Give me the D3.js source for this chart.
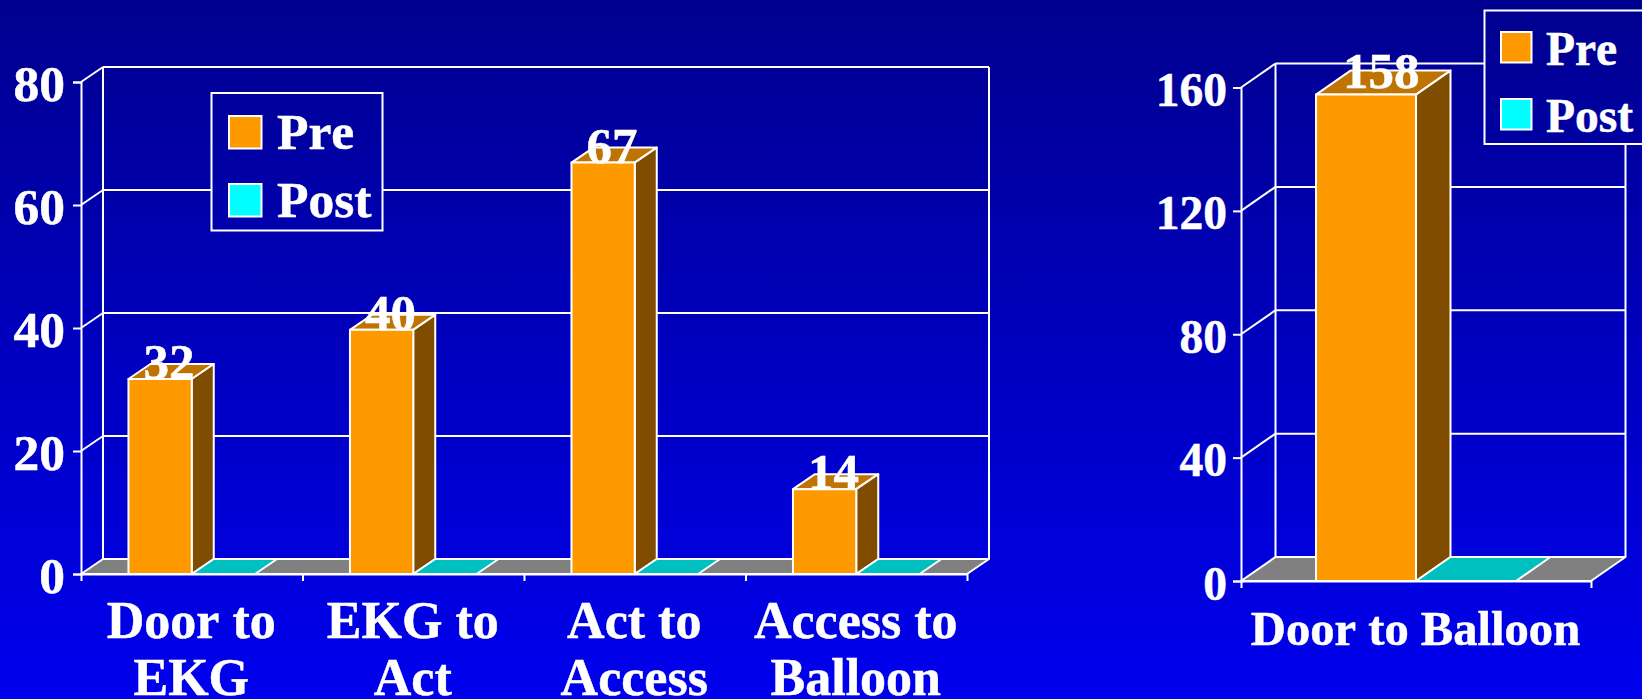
<!DOCTYPE html>
<html>
<head>
<meta charset="utf-8">
<script src="https://cdn.jsdelivr.net/npm/d3@7/dist/d3.min.js"></script>
<style>
html,body{margin:0;padding:0;background:#0000e8;overflow:hidden}
svg{display:block}
text{font-family:"Liberation Serif",serif;font-weight:700;fill:#fff;stroke:#fff;stroke-width:0.5px;font-kerning:none}
</style>
</head>
<body>
<svg id="chart" width="1642" height="699"></svg>
<script>
// ---- data ----
const seriesNames = ["Pre", "Post"];
const seriesColors = ["#ff9900", "#00ffff"];
const topColors = ["#bf7300", "#00bfbf"];
const sideColors = ["#7f4c00", "#007f7f"];

const leftCategories = [["Door to", "EKG"], ["EKG to", "Act"], ["Act to", "Access"], ["Access to", "Balloon"]];
const leftPre = [31.7, 39.7, 66.9, 13.8];
const leftPost = [0, 0, 0, 0];
const leftTicks = [0, 20, 40, 60, 80];

const rightCategories = [["Door to Balloon"]];
const rightPre = [157.7];
const rightPost = [0];
const rightTicks = [0, 40, 80, 120, 160];

const svg = d3.select("#chart");
const defs = svg.append("defs");
const bg = defs.append("linearGradient").attr("id", "bg")
  .attr("gradientUnits", "userSpaceOnUse")
  .attr("x1", 0).attr("y1", 0).attr("x2", 0).attr("y2", 699);
bg.append("stop").attr("offset", 0).attr("stop-color", "#00008e");
bg.append("stop").attr("offset", 1).attr("stop-color", "#0000ee");
svg.append("rect").attr("width", 1642).attr("height", 699).attr("fill", "url(#bg)");

const WHITE = "#fff", SW = 2;

function panel(o) {
  const g = svg.append("g");
  const y = d3.scaleLinear().domain([0, o.yMax]).range([o.y0, o.yTop]);
  const x = d3.scaleBand().domain(d3.range(o.categories.length)).range([o.x0, o.x1]);
  const xEdges = d3.scaleLinear().domain([0, o.categories.length]).range([o.x0, o.x1]);
  const inner = d3.scaleBand().domain(seriesNames).range([0, x.bandwidth()]).paddingOuter(0.75);
  const dx = o.dx, dy = o.dy;
  const line = (x1, y1, x2, y2) => g.append("line")
    .attr("x1", x1).attr("y1", y1).attr("x2", x2).attr("y2", y2)
    .attr("stroke", WHITE).attr("stroke-width", SW);
  const poly = (pts, fill) => g.append("polygon")
    .attr("points", pts.map(p => p.join(",")).join(" "))
    .attr("fill", fill).attr("stroke", WHITE).attr("stroke-width", SW).attr("stroke-linejoin", "round");

  // floor
  poly([[o.x0, o.y0], [o.x0 + dx, o.y0 - dy], [o.x1 + dx, o.y0 - dy], [o.x1, o.y0]], "#808080");

  // back wall and side wall grid
  o.ticks.forEach(t => {
    if (t > 0) {
      line(o.x0 + dx, y(t) - dy, o.x1 + dx, y(t) - dy);
      line(o.x0, y(t), o.x0 + dx, y(t) - dy);
    }
  });
  line(o.x0 + dx, y(o.yMax) - dy, o.x0 + dx, o.y0 - dy);
  line(o.x1 + dx, y(o.yMax) - dy, o.x1 + dx, o.y0 - dy);

  // axes
  const yAxis = g.append("g").attr("transform", `translate(${o.x0},0)`)
    .call(d3.axisLeft(y).tickValues(o.ticks).tickSize(8).tickPadding(o.tickPad));
  yAxis.selectAll("path").attr("stroke", WHITE).attr("stroke-width", SW);
  yAxis.selectAll("line").attr("stroke", WHITE).attr("stroke-width", SW);
  yAxis.selectAll("text").attr("dy", "18px").attr("fill", WHITE)
    .style("font-family", '"Liberation Serif",serif').style("font-weight", 700).style("font-size", o.font + "px");

  const xAxis = g.append("g").attr("transform", `translate(0,${o.y0})`)
    .call(d3.axisBottom(xEdges).ticks(o.categories.length).tickFormat("").tickSize(7).tickSizeOuter(0));
  xAxis.selectAll("path").attr("stroke", WHITE).attr("stroke-width", SW);
  xAxis.selectAll("line").attr("stroke", WHITE).attr("stroke-width", SW);

  // bars
  o.categories.forEach((c, i) => {
    seriesNames.forEach((s, si) => {
      const v = o.values[si][i];
      const xl = x(i) + inner(s), xr = xl + inner.bandwidth(), yt = y(v);
      poly([[xl, yt], [xl + dx, yt - dy], [xr + dx, yt - dy], [xr, yt]], topColors[si]);
      if (v > 0) {
        poly([[xr, yt], [xr + dx, yt - dy], [xr + dx, o.y0 - dy], [xr, o.y0]], sideColors[si]);
        poly([[xl, yt], [xr, yt], [xr, o.y0], [xl, o.y0]], seriesColors[si]);
      }
    });
  });

  // value labels
  o.categories.forEach((c, i) => {
    const v = o.values[0][i];
    g.append("text").attr("text-anchor", "middle")
      .attr("x", x(i) + inner("Pre") + inner.bandwidth() / 2 + dx / 2 - 2)
      .attr("y", y(v) + o.labelShift)
      .style("font-size", o.labelFont + "px")
      .text(d3.format(".0f")(v));
  });

  // category labels
  o.categories.forEach((c, i) => {
    c.forEach((ln, li) => {
      g.append("text").attr("text-anchor", "middle")
        .attr("x", x(i) + x.bandwidth() / 2 - 0.5)
        .attr("y", o.catBase + li * 57)
        .style("font-size", o.catFont + "px")
        .text(ln);
    });
  });

  // legend
  const L = o.legend;
  g.append("rect").attr("x", L.x).attr("y", L.y).attr("width", L.w).attr("height", L.h)
    .attr("fill", "url(#bg)").attr("stroke", WHITE).attr("stroke-width", SW);
  seriesNames.forEach((s, si) => {
    g.append("rect").attr("x", L.sx).attr("y", L.sy[si]).attr("width", L.ss).attr("height", L.ss)
      .attr("fill", seriesColors[si]).attr("stroke", WHITE).attr("stroke-width", SW);
    g.append("text").attr("x", L.tx).attr("y", L.ty[si]).style("font-size", L.font + "px").text(s);
  });
}

panel({
  categories: leftCategories, values: [leftPre, leftPost], ticks: leftTicks, yMax: 80,
  x0: 81, x1: 967, y0: 574, yTop: 82, dx: 22, dy: 15,
  font: 51.5, tickPad: 8, labelFont: 51, labelShift: 0, catFont: 52, catBase: 638,
  legend: { x: 211.5, y: 93, w: 171, h: 137.5, sx: 229, ss: 32.5, sy: [116, 184], tx: 277, ty: [149, 217], font: 51.5 }
});

panel({
  categories: rightCategories, values: [rightPre, rightPost], ticks: rightTicks, yMax: 160,
  x0: 1241, x1: 1591, y0: 581, yTop: 87.5, dx: 34.5, dy: 24,
  font: 47.5, tickPad: 6, labelFont: 51, labelShift: -7, catFont: 48.6, catBase: 645,
  legend: { x: 1484.5, y: 10.5, w: 170, h: 133.5, sx: 1501, ss: 30.5, sy: [32, 99], tx: 1546, ty: [65, 131.5], font: 47.5 }
});
</script>
</body>
</html>
